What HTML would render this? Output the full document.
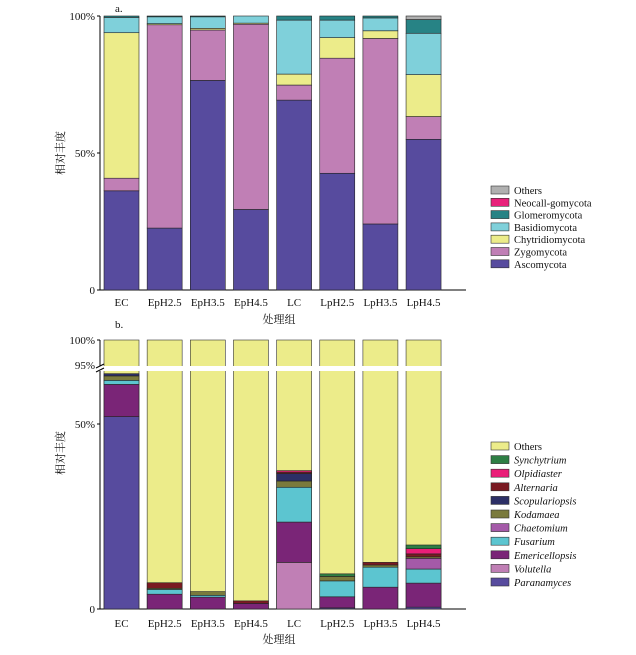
<!DOCTYPE html>
<html><head><meta charset="utf-8">
<style>
body{margin:0;background:#fff;width:636px;height:655px;overflow:hidden}
svg{display:block;font-family:"Liberation Serif","Noto Serif CJK SC",serif}
</style></head>
<body>
<svg id="c" width="636" height="655"></svg>
<script>
const categories=["EC","EpH2.5","EpH3.5","EpH4.5","LC","LpH2.5","LpH3.5","LpH4.5"];
const phylaNames=["Ascomycota","Zygomycota","Chytridiomycota","Basidiomycota","Glomeromycota","Neocall-gomycota","Others"];
const ascomycota=[36.2,22.6,76.5,29.4,69.3,42.6,24.1,55.0];
const zygomycota=[4.6,74.2,18.4,67.6,5.5,42.0,67.7,8.3];
const chytridiomycota=[53.1,0.4,0.6,0.4,4.0,7.5,2.8,15.3];
const basidiomycota=[5.6,2.5,4.2,2.6,19.7,6.4,4.7,15.1];
const glomeromycota=[0.5,0.3,0.3,0,1.5,1.5,0.7,5.0];
const neocallimastigomycota=[0,0,0,0,0,0,0,0];
const othersA=[0,0,0,0,0,0,0,1.3];
const genusNames=["Paranamyces","Volutella","Emericellopsis","Fusarium","Chaetomium","Kodamaea","Scopulariopsis","Alternaria","Olpidiaster","Synchytrium","Others"];
const paranamyces=[52,0,0,0,0,0.3,0,0.5];
const volutella=[0,0,0,0,12.6,0,0,0];
const emericellopsis=[8.7,4.0,3.2,1.5,10.9,3.0,5.9,6.5];
const fusarium=[1.1,1.3,0.5,0,9.4,4.3,5.4,3.8];
const chaetomium=[0,0,0,0,0,0,0,2.9];
const kodamaea=[1.2,0.3,1.0,0,1.7,1.2,0.6,0.4];
const scopulariopsis=[0.6,0,0,0,2.0,0,0,0];
const alternaria=[0,1.5,0,0.7,0.4,0,0.7,0.8];
const olpidiaster=[0,0,0,0,0.4,0,0,1.4];
const synchytrium=[0,0,0,0,0,0.7,0,1.0];
const yTicksA=["0","50%","100%"];
const yTicksB=["0","50%","95%","100%"];

const S="http://www.w3.org/2000/svg",svg=document.getElementById('c');
function el(t,a,p){const e=document.createElementNS(S,t);for(const k in a)e.setAttribute(k,a[k]);(p||svg).appendChild(e);return e;}
function txt(x,y,s,a){const e=el('text',Object.assign({x:x,y:y,'font-size':11,fill:'#111'},a||{}));e.textContent=s;return e;}
const colA=["#574b9e","#c07fb5","#ecec8a","#7fd0da","#278385","#e8217a","#b0b0b0"];
const colB=["#574b9e","#c07fb5","#7a2577","#5cc5d0","#a45aa8","#7a7a3c","#2c2f66","#7a1a22","#ea1e78","#2e7e44","#ecec8a"];
const seriesA=[ascomycota,zygomycota,chytridiomycota,basidiomycota,glomeromycota,neocallimastigomycota,othersA];
const seriesB=[paranamyces,volutella,emericellopsis,fusarium,chaetomium,kodamaea,scopulariopsis,alternaria,olpidiaster,synchytrium];
function xPos(i){return 104+i*43.15;}
const BW=35;
// chart A
function yA(v){return 290-v*2.74;}
el('line',{x1:100,y1:16,x2:100,y2:290,stroke:'#000','stroke-width':1});
el('line',{x1:100,y1:290,x2:466,y2:290,stroke:'#000','stroke-width':1});
[0,50,100].forEach((v,i)=>{el('line',{x1:97,y1:yA(v),x2:100,y2:yA(v),stroke:'#000'});const t=txt(95,yA(v)+4,yTicksA[i],{'text-anchor':'end'});});
txt(115,12,"a.",{});
categories.forEach((c,i)=>{let acc=0;const x=xPos(i);
 seriesA.forEach((s,k)=>{const v=s[i];if(v<=0)return;const r=el('rect',{x:x,y:yA(acc+v),width:BW,height:v*2.74,fill:colA[k],stroke:'#222','stroke-width':0.6});
 
 acc+=v;});
 txt(x+BW/2,306,c,{'text-anchor':'middle'});});
txt(279,323,"处理组",{'text-anchor':'middle','font-size':11});
txt(0,0,"相对丰度",{transform:'translate(64,153) rotate(-90)','text-anchor':'middle'});
// legend A
for(let k=6;k>=0;k--){const y=186+(6-k)*12.3;const r=el('rect',{x:491,y:y,width:18,height:8,fill:colA[k],stroke:'#333','stroke-width':0.6});
 
 txt(514,y+8,phylaNames[k],{'font-size':10.5});}
// chart B
function yB(v){return 609-v*3.7;}
const topLow=372;
el('line',{x1:100,y1:340,x2:100,y2:609,stroke:'#000'});
el('line',{x1:100,y1:609,x2:466,y2:609,stroke:'#000'});
el('line',{x1:97,y1:609,x2:100,y2:609,stroke:'#000'});el('line',{x1:97,y1:yB(50),x2:100,y2:yB(50),stroke:'#000'});
el('line',{x1:97,y1:340,x2:100,y2:340,stroke:'#000'});
txt(95,613,yTicksB[0],{'text-anchor':'end'});txt(95,yB(50)+4,yTicksB[1],{'text-anchor':'end'});
txt(95,369,yTicksB[2],{'text-anchor':'end'});txt(95,344,yTicksB[3],{'text-anchor':'end'});
txt(115,328,"b.",{});
categories.forEach((c,i)=>{let acc=0;const x=xPos(i);
 const o=el('rect',{x:x,y:340,width:BW,height:609-340,fill:'#ecec8a',stroke:'#333','stroke-width':0.6});
 
 seriesB.forEach((s,k)=>{const v=s[i];if(v<=0)return;const r=el('rect',{x:x,y:yB(acc+v),width:BW,height:v*3.7,fill:colB[k],stroke:'#222','stroke-width':0.6});
 
 acc+=v;});
 txt(x+BW/2,627,c,{'text-anchor':'middle'});});
el('rect',{x:96,y:366,width:380,height:5,fill:'#fff'});
el('line',{x1:96,y1:368,x2:104,y2:364,stroke:'#000'});el('line',{x1:96,y1:372,x2:104,y2:368,stroke:'#000'});
txt(279,643,"处理组",{'text-anchor':'middle'});
txt(0,0,"相对丰度",{transform:'translate(64,453) rotate(-90)','text-anchor':'middle'});
for(let k=10;k>=0;k--){const y=442+(10-k)*13.6;const r=el('rect',{x:491,y:y,width:18,height:8,fill:colB[k],stroke:'#333','stroke-width':0.6});
 
 txt(514,y+8,genusNames[k],{'font-size':10.5,'font-style':k==10?'normal':'italic'});}
</script>
</body></html>
